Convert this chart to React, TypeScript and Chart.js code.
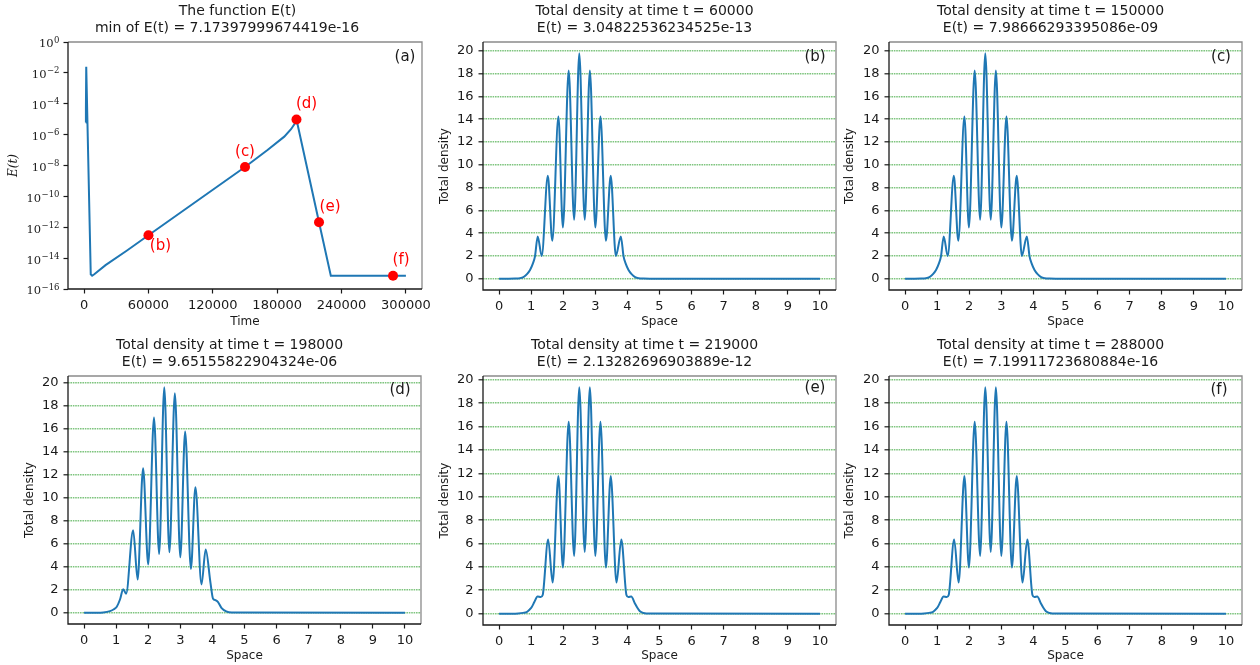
import React, { useEffect, useRef } from "react";
import { Chart, registerables } from "chart.js";

Chart.register(...registerables);

const SANS = "'DejaVu Sans', sans-serif";
const SERIF = "'DejaVu Serif', serif";

// ---------- (a) The function E(t) ----------
const timeE = [1500, 1700, 2000, 6200, 7500, 9500, 20000, 40000, 60000, 150000, 171000, 186600, 192900, 196600, 198000, 219000, 230000, 300000];
const valueE = [6e-6, 5e-5, 2.5e-2, 9e-16, 7.2e-16, 9e-16, 3.5e-15, 3.1e-14, 3.05e-13, 7.99e-9, 1.02e-7, 7.4e-7, 2.24e-6, 5.4e-6, 9.65e-6, 2.13e-12, 7.17e-16, 7.2e-16];
const markerTimes = [60000, 150000, 198000, 219000, 288000];
const markerValues = [3.04822536234525e-13, 7.98666293395086e-9, 9.65155822904324e-6, 2.13282696903889e-12, 7.19911723680884e-16];
const markerLabels = ["(b)", "(c)", "(d)", "(e)", "(f)"];
const timeTicks = [0, 60000, 120000, 180000, 240000, 300000];
const logTicks = [1, 1e-2, 1e-4, 1e-6, 1e-8, 1e-10, 1e-12, 1e-14, 1e-16];
const titleA = ["The function E(t)", "min of E(t) = 7.17397999674419e-16"];

// ---------- density panels ----------
const spaceTicks = [0, 1, 2, 3, 4, 5, 6, 7, 8, 9, 10];
const densityTicks = [0, 2, 4, 6, 8, 10, 12, 14, 16, 18, 20];

const spaceB = [0, 0.3, 0.5, 0.65, 0.76, 0.87, 0.97, 1.05, 1.12, 1.205, 1.33, 1.52, 1.66, 1.85, 1.99, 2.17, 2.34, 2.5, 2.67, 2.83, 3.0, 3.16, 3.33, 3.48, 3.64, 3.795, 3.88, 3.95, 4.03, 4.13, 4.24, 4.35, 4.5, 4.7, 10];
const densityB = [0, 0, 0.01, 0.05, 0.15, 0.4, 0.79, 1.3, 1.96, 3.71, 2.0, 9.03, 3.33, 14.23, 4.5, 18.26, 5.17, 19.78, 5.17, 18.26, 4.5, 14.23, 3.33, 9.03, 2.0, 3.71, 1.96, 1.3, 0.79, 0.4, 0.15, 0.05, 0.01, 0, 0];

const spaceC = [0, 0.3, 0.5, 0.65, 0.76, 0.87, 0.97, 1.05, 1.12, 1.205, 1.33, 1.52, 1.66, 1.85, 1.99, 2.17, 2.34, 2.5, 2.67, 2.83, 3.0, 3.16, 3.33, 3.48, 3.64, 3.795, 3.88, 3.95, 4.03, 4.13, 4.24, 4.35, 4.5, 4.7, 10];
const densityC = [0, 0, 0.01, 0.05, 0.15, 0.4, 0.79, 1.3, 1.96, 3.71, 2.0, 9.03, 3.33, 14.23, 4.5, 18.26, 5.17, 19.78, 5.17, 18.26, 4.5, 14.23, 3.33, 9.03, 2.0, 3.71, 1.96, 1.3, 0.79, 0.4, 0.15, 0.05, 0.01, 0, 0];

const spaceD = [0, 0.4, 0.6, 0.81, 0.93, 1.02, 1.12, 1.22, 1.31, 1.53, 1.67, 1.84, 2.0, 2.18, 2.34, 2.5, 2.66, 2.83, 3.0, 3.15, 3.33, 3.47, 3.66, 3.79, 3.94, 4.02, 4.1, 4.17, 4.28, 4.43, 4.6, 10];
const densityD = [0, 0, 0.02, 0.14, 0.3, 0.52, 1.15, 2.05, 1.65, 7.17, 2.89, 12.57, 4.19, 16.97, 5.11, 19.6, 5.26, 19.08, 4.82, 15.75, 3.81, 10.9, 2.46, 5.49, 2.6, 1.21, 1.09, 0.95, 0.43, 0.12, 0.02, 0];

const spaceE = [0, 0.4, 0.6, 0.75, 0.86, 0.95, 1.02, 1.1, 1.2, 1.3, 1.36, 1.53, 1.67, 1.85, 1.99, 2.17, 2.34, 2.5, 2.67, 2.83, 3.0, 3.16, 3.33, 3.48, 3.66, 3.81, 3.97, 4.03, 4.12, 4.23, 4.31, 4.39, 4.5, 4.7, 10];
const densityE = [0, 0, 0.02, 0.07, 0.14, 0.35, 0.57, 1.0, 1.48, 1.42, 1.6, 6.34, 2.66, 11.77, 3.94, 16.42, 4.94, 19.36, 5.28, 19.36, 4.94, 16.42, 3.94, 11.77, 2.66, 6.34, 1.6, 1.42, 1.48, 0.9, 0.5, 0.2, 0.06, 0.01, 0];

const spaceF = [0, 0.4, 0.6, 0.75, 0.86, 0.95, 1.02, 1.1, 1.2, 1.3, 1.36, 1.53, 1.67, 1.85, 1.99, 2.17, 2.34, 2.5, 2.67, 2.83, 3.0, 3.16, 3.33, 3.48, 3.66, 3.81, 3.97, 4.03, 4.12, 4.23, 4.31, 4.39, 4.5, 4.7, 10];
const densityF = [0, 0, 0.02, 0.07, 0.14, 0.35, 0.57, 1.0, 1.48, 1.42, 1.6, 6.34, 2.66, 11.77, 3.94, 16.42, 4.94, 19.36, 5.28, 19.36, 4.94, 16.42, 3.94, 11.77, 2.66, 6.34, 1.6, 1.42, 1.48, 0.9, 0.5, 0.2, 0.06, 0.01, 0];

const densityTimes = ["60000", "150000", "198000", "219000", "288000"];
const densityErrors = ["3.04822536234525e-13", "7.98666293395086e-09", "9.65155822904324e-06", "2.13282696903889e-12", "7.19911723680884e-16"];
const densityTags = ["(b)", "(c)", "(d)", "(e)", "(f)"];
const densitySpaces = [spaceB, spaceC, spaceD, spaceE, spaceF];
const densityValues = [densityB, densityC, densityD, densityE, densityF];

// ---------- layout (positions / sizes only) ----------
type Panel = {
  left: number; top: number; width: number; height: number;
  yw: number; pr: number; pt: number; xh: number;
  yTitlePad: number; xTitlePad: number;
  titleDx: [number, number]; tagDx: number; tagDy: number;
};
const panelA: Panel = { left: 0, top: 0, width: 430, height: 332, yw: 68, pr: 8, pt: 42, xh: 43, yTitlePad: 6.8, xTitlePad: 2.5, titleDx: [-7.5, -18], tagDx: 17, tagDy: 15 };
const densityPanels: Panel[] = [
  { left: 430, top: 0, width: 410, height: 332, yw: 53, pr: 4, pt: 42, xh: 42, yTitlePad: 7.8, xTitlePad: 2.5, titleDx: [-15, -15], tagDx: 21, tagDy: 15 },
  { left: 840, top: 0, width: 420, height: 332, yw: 49, pr: 18, pt: 42, xh: 42, yTitlePad: 2.8, xTitlePad: 2.5, titleDx: [-15, -15], tagDx: 21, tagDy: 15 },
  { left: 0, top: 332, width: 430, height: 333, yw: 68, pr: 9, pt: 44, xh: 41, yTitlePad: 22.8, xTitlePad: 1.5, titleDx: [-15, -15], tagDx: 21, tagDy: 14 },
  { left: 430, top: 332, width: 410, height: 333, yw: 53, pr: 4, pt: 44, xh: 40, yTitlePad: 7.8, xTitlePad: 1.5, titleDx: [-15, -15], tagDx: 21, tagDy: 12 },
  { left: 840, top: 332, width: 420, height: 333, yw: 49, pr: 18, pt: 44, xh: 40, yTitlePad: 2.8, xTitlePad: 1.5, titleDx: [-15, -15], tagDx: 23, tagDy: 14 },
];

const TEXT = "#1a1a1a";
const BLUE = "#1f77b4";
const GRID = "rgba(0,140,0,0.5)";

const framePlugin = {
  id: "frame",
  afterDatasetsDraw(chart: any) {
    const { ctx, chartArea } = chart;
    const { left, right, top, bottom } = chartArea;
    ctx.save();
    ctx.lineWidth = 1.3;
    ctx.strokeStyle = "#8a8a8a";
    ctx.beginPath();
    ctx.moveTo(left, top);
    ctx.lineTo(right, top);
    ctx.lineTo(right, bottom);
    ctx.stroke();
    ctx.strokeStyle = "#1a1a1a";
    ctx.beginPath();
    ctx.moveTo(left, top);
    ctx.lineTo(left, bottom);
    ctx.lineTo(right, bottom);
    ctx.stroke();
    ctx.restore();
  },
};

function textPlugin(lines: string[], panel: Panel, tag: string) {
  return {
    id: "texts",
    afterDraw(chart: any) {
      const { ctx, chartArea } = chart;
      const cx = (chartArea.left + chartArea.right) / 2;
      ctx.save();
      ctx.fillStyle = TEXT;
      ctx.textAlign = "center";
      ctx.textBaseline = "middle";
      ctx.font = `14px ${SANS}`;
      ctx.fillText(lines[0], cx + panel.titleDx[0], chartArea.top - 30.5);
      ctx.fillText(lines[1], cx + panel.titleDx[1], chartArea.top - 13.5);
      ctx.font = `15px ${SANS}`;
      ctx.fillText(tag, chartArea.right - panel.tagDx, chartArea.top + panel.tagDy);
      ctx.restore();
    },
  };
}

const logLabelPlugin = {
  id: "loglabels",
  afterDraw(chart: any) {
    const { ctx, chartArea } = chart;
    const y = chart.scales.y;
    ctx.save();
    ctx.fillStyle = TEXT;
    ctx.textAlign = "right";
    ctx.textBaseline = "alphabetic";
    const xEnd = chartArea.left - 8.5;
    for (const t of y.ticks) {
      const py = y.getPixelForValue(t.value);
      const exp = Math.round(Math.log10(t.value));
      const expStr = exp === 0 ? "0" : "\u2212" + Math.abs(exp);
      ctx.font = `8.5px ${SERIF}`;
      const ew = ctx.measureText(expStr).width;
      ctx.fillText(expStr, xEnd, py + 0.5);
      ctx.font = `11.5px ${SERIF}`;
      ctx.fillText("10", xEnd - ew - 0.5, py + 5.4);
    }
    ctx.restore();
  },
};

const markerLabelPlugin = {
  id: "markerlabels",
  afterDraw(chart: any) {
    const { ctx } = chart;
    const xs = chart.scales.x;
    const ys = chart.scales.y;
    const offsets = [[12, 11], [0, -15], [10, -15], [11, -15], [8, -16]];
    ctx.save();
    ctx.fillStyle = "#ff0000";
    ctx.font = `15px ${SANS}`;
    ctx.textAlign = "center";
    ctx.textBaseline = "middle";
    markerLabels.forEach((lab, i) => {
      const px = xs.getPixelForValue(markerTimes[i]);
      const py = ys.getPixelForValue(markerValues[i]);
      ctx.fillText(lab, px + offsets[i][0], py + offsets[i][1]);
    });
    ctx.restore();
  },
};

function fixAxis(p: Panel, isX: boolean) {
  return (s: any) => {
    if (isX) {
      s.height = p.xh;
      s.paddingLeft = 0;
      s.paddingRight = 0;
    } else {
      s.width = p.yw;
      s.paddingTop = 0;
      s.paddingBottom = 0;
    }
  };
}

const tickFont = { family: SANS, size: 13 };
const labelFont = { family: SANS, size: 12 };

function makeEChart(canvas: HTMLCanvasElement) {
  const p = panelA;
  return new Chart(canvas, {
    type: "line",
    data: {
      datasets: [
        {
          data: markerTimes.map((t, i) => ({ x: t, y: markerValues[i] })),
          showLine: false,
          pointRadius: 5,
          pointBackgroundColor: "#ff0000",
          pointBorderColor: "#ff0000",
          pointBorderWidth: 0,
        },
        {
          data: timeE.map((t, i) => ({ x: t, y: valueE[i] })),
          borderColor: BLUE,
          borderWidth: 2,
          pointRadius: 0,
          tension: 0,
          fill: false,
        },
      ],
    },
    options: {
      animation: false,
      responsive: false,
      events: [],
      layout: { padding: { left: 0, right: p.pr, top: p.pt, bottom: 0 } },
      plugins: { legend: { display: false }, tooltip: { enabled: false }, title: { display: false } },
      scales: {
        x: {
          type: "linear",
          min: -15000,
          max: 315000,
          afterBuildTicks: (s: any) => { s.ticks = timeTicks.map((v) => ({ value: v })); },
          afterFit: fixAxis(p, true),
          grid: { display: true, drawOnChartArea: false, drawTicks: true, tickLength: 4.5, tickColor: TEXT, tickWidth: 1.2 },
          border: { display: false },
          ticks: { color: TEXT, font: tickFont, padding: 4, maxRotation: 0, autoSkip: false, callback: (v: any) => String(v) },
          title: { display: true, text: "Time", color: TEXT, font: labelFont, padding: { top: 0, bottom: p.xTitlePad } },
        },
        y: {
          type: "logarithmic",
          min: 1e-16,
          max: 1,
          afterBuildTicks: (s: any) => { s.ticks = logTicks.map((v) => ({ value: v })); },
          afterFit: fixAxis(p, false),
          grid: { display: true, drawOnChartArea: false, drawTicks: true, tickLength: 4.5, tickColor: TEXT, tickWidth: 1.2 },
          border: { display: false },
          ticks: { autoSkip: false, callback: () => "" },
          title: { display: true, text: "E(t)", color: TEXT, font: { family: SERIF, size: 12, style: "italic" }, padding: { top: p.yTitlePad, bottom: 0 } },
        },
      },
    } as any,
    plugins: [framePlugin, textPlugin(titleA, p, "(a)"), logLabelPlugin, markerLabelPlugin] as any,
  });
}

function makeDensityChart(canvas: HTMLCanvasElement, k: number) {
  const p = densityPanels[k];
  const xs = densitySpaces[k];
  const ys = densityValues[k];
  const peak = Math.max(...ys);
  return new Chart(canvas, {
    type: "line",
    data: {
      datasets: [
        {
          data: xs.map((x, i) => ({ x, y: ys[i] })),
          borderColor: BLUE,
          borderWidth: 2,
          pointRadius: 0,
          cubicInterpolationMode: "monotone",
          fill: false,
        },
      ],
    },
    options: {
      animation: false,
      responsive: false,
      events: [],
      layout: { padding: { left: 0, right: p.pr, top: p.pt, bottom: 0 } },
      plugins: { legend: { display: false }, tooltip: { enabled: false }, title: { display: false } },
      scales: {
        x: {
          type: "linear",
          min: -0.5,
          max: 10.5,
          afterBuildTicks: (s: any) => { s.ticks = spaceTicks.map((v) => ({ value: v })); },
          afterFit: fixAxis(p, true),
          grid: { display: true, drawOnChartArea: false, drawTicks: true, tickLength: 4.5, tickColor: TEXT, tickWidth: 1.2 },
          border: { display: false },
          ticks: { color: TEXT, font: tickFont, padding: 4, maxRotation: 0, autoSkip: false, callback: (v: any) => String(v) },
          title: { display: true, text: "Space", color: TEXT, font: labelFont, padding: { top: 0, bottom: p.xTitlePad } },
        },
        y: {
          type: "linear",
          min: -0.05 * peak,
          max: 1.05 * peak,
          afterBuildTicks: (s: any) => { s.ticks = densityTicks.map((v) => ({ value: v })); },
          afterFit: fixAxis(p, false),
          grid: { display: true, drawOnChartArea: true, color: GRID, lineWidth: 1.6, drawTicks: true, tickLength: 4.5, tickColor: TEXT, tickWidth: 1.2, tickBorderDash: [] },
          border: { display: false, dash: [1.6, 0.8] },
          ticks: { color: TEXT, font: tickFont, padding: 5, autoSkip: false, callback: (v: any) => String(v) },
          title: { display: true, text: "Total density", color: TEXT, font: labelFont, padding: { top: p.yTitlePad, bottom: 0 } },
        },
      },
    } as any,
    plugins: [
      framePlugin,
      textPlugin([`Total density at time t = ${densityTimes[k]}`, `E(t) = ${densityErrors[k]}`], p, densityTags[k]),
    ] as any,
  });
}

export default function App() {
  const refA = useRef<HTMLCanvasElement | null>(null);
  const refs = useRef<(HTMLCanvasElement | null)[]>([]);

  useEffect(() => {
    document.body.style.margin = "0";
    const charts: Chart[] = [];
    if (refA.current) charts.push(makeEChart(refA.current));
    densityPanels.forEach((_, k) => {
      const c = refs.current[k];
      if (c) charts.push(makeDensityChart(c, k));
    });
    return () => charts.forEach((c) => c.destroy());
  }, []);

  const canvasStyle = (p: Panel): React.CSSProperties => ({
    position: "absolute",
    left: p.left,
    top: p.top,
    width: p.width,
    height: p.height,
  });

  return (
    <div style={{ position: "fixed", left: 0, top: 0, width: 1260, height: 665, background: "#ffffff", overflow: "hidden" }}>
      <canvas ref={refA} width={panelA.width} height={panelA.height} style={canvasStyle(panelA)} />
      {densityPanels.map((p, k) => (
        <canvas
          key={k}
          ref={(el) => { refs.current[k] = el; }}
          width={p.width}
          height={p.height}
          style={canvasStyle(p)}
        />
      ))}
    </div>
  );
}
